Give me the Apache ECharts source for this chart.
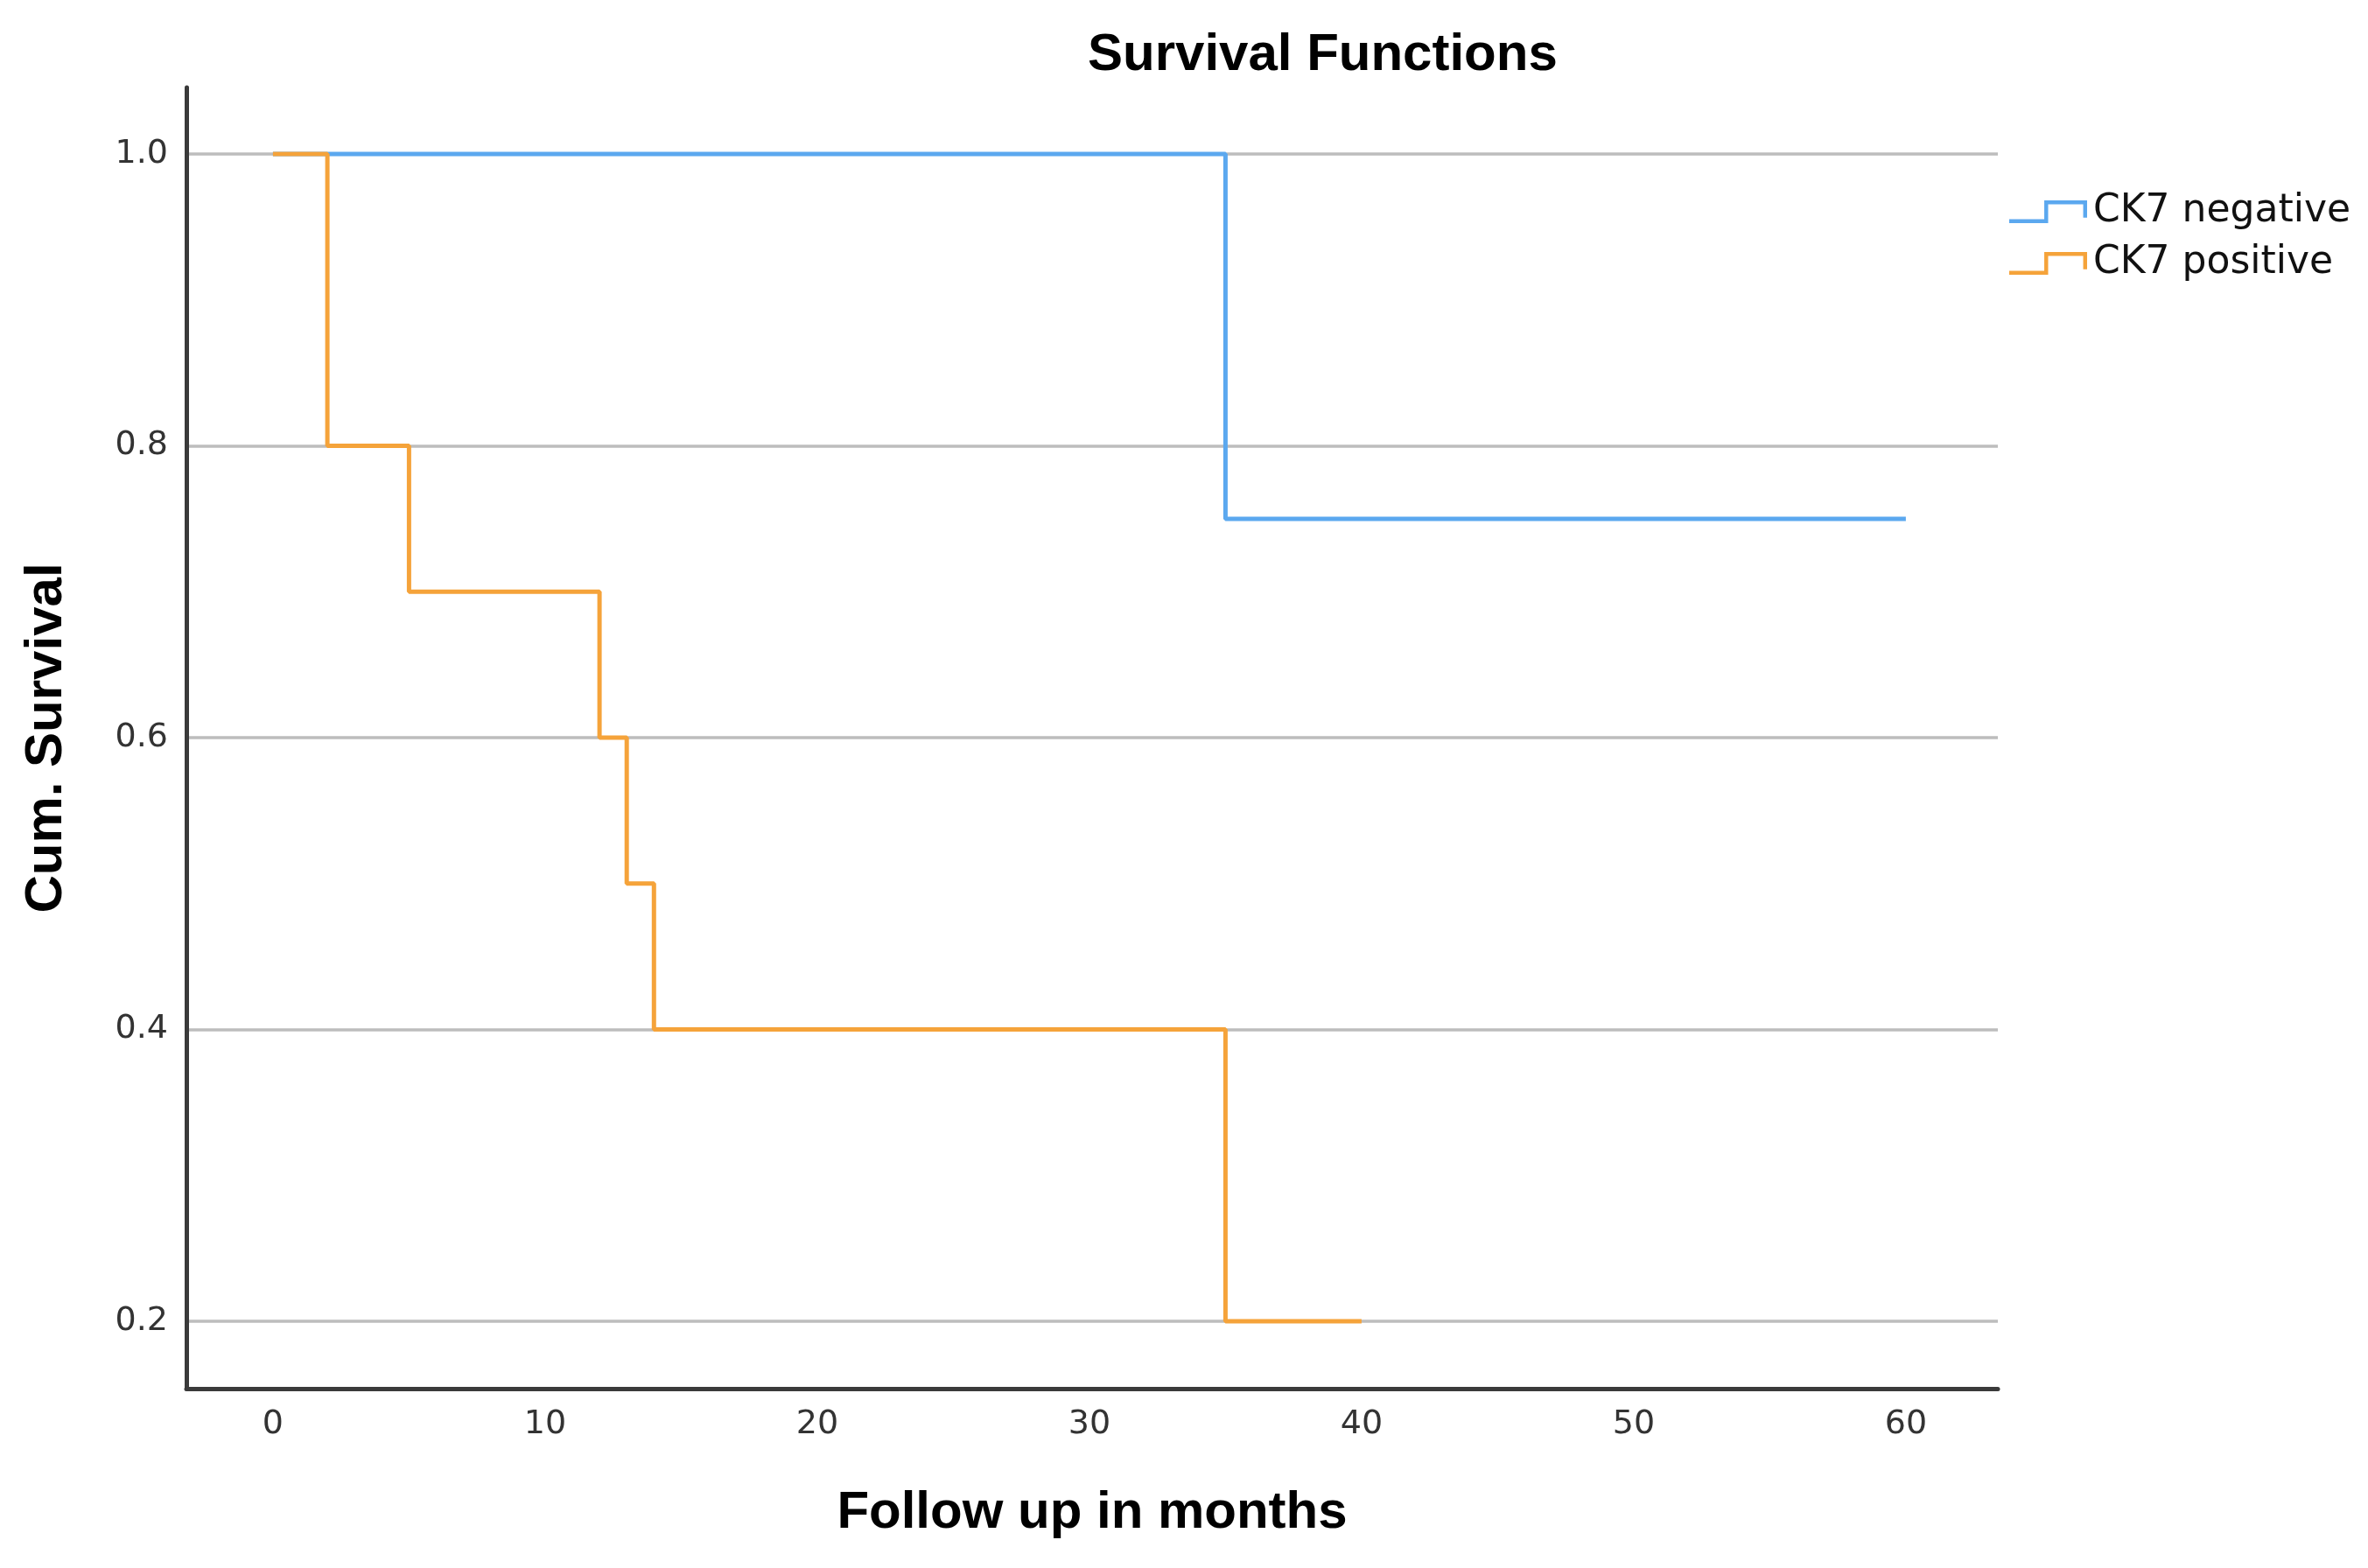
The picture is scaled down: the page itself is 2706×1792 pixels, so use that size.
<!DOCTYPE html>
<html>
<head>
<meta charset="utf-8">
<style>
  html, body { margin: 0; padding: 0; background: #ffffff; }
  #chart { width: 2706px; height: 1792px; }
</style>
<script src="https://cdn.jsdelivr.net/npm/echarts@6/dist/echarts.min.js"></script>
</head>
<body>
<div id="chart"></div>
<script>
// ---- data ----
const seriesNames = ['CK7 negative', 'CK7 positive'];
// CK7 negative: time points (months) and cumulative survival
const negTimes = [0, 35, 60];
const negSurvival = [1.0, 0.75, 0.75];
// CK7 positive
const posTimes = [0, 2, 5, 12, 13, 14, 35, 40];
const posSurvival = [1.0, 0.8, 0.7, 0.6, 0.5, 0.4, 0.2, 0.2];
// tick labels
const xTicks = [0, 10, 20, 30, 40, 50, 60];
const yTicks = [0.2, 0.4, 0.6, 0.8, 1.0];

const toPairs = (xs, ys) => xs.map((x, i) => [x, ys[i]]);

const stepIcon = 'path://M0,24 L45,24 L45,0 L100,0 L100,22 L95,22 L95,5 L50,5 L50,29 L0,29 Z';

const chart = echarts.init(document.getElementById('chart'), null, { renderer: 'canvas' });

const option = {
  backgroundColor: '#ffffff',
  animation: false,
  title: {
    text: 'Survival Functions',
    left: 1238,
    top: 28,
    textStyle: {
      fontFamily: 'Liberation Sans',
      fontWeight: 'bold',
      fontSize: 60,
      color: '#000000'
    }
  },
  legend: {
    orient: 'vertical',
    left: 2291,
    top: 215,
    itemWidth: 89,
    itemHeight: 28,
    itemGap: 15,
    icon: stepIcon,
    data: seriesNames,
    textStyle: {
      fontFamily: 'DejaVu Sans',
      fontSize: 44,
      color: '#111111',
      padding: [0, 0, 0, 2]
    }
  },
  grid: {
    left: 213,
    right: 423,
    top: 100,
    bottom: 205,
    containLabel: false
  },
  xAxis: {
    type: 'value',
    min: -3.18,
    max: 63.38,
    name: 'Follow up in months',
    nameLocation: 'middle',
    nameGap: 112,
    nameTextStyle: {
      fontFamily: 'Liberation Sans',
      fontWeight: 'bold',
      fontSize: 60,
      color: '#000000'
    },
    axisLine: { show: true, onZero: false, lineStyle: { color: '#3a3a3a', width: 5 } },
    axisTick: { show: false, customValues: xTicks },
    axisLabel: {
      customValues: xTicks,
      margin: 22,
      fontFamily: 'DejaVu Sans',
      fontSize: 38,
      color: '#333333'
    },
    splitLine: { show: false }
  },
  yAxis: {
    type: 'value',
    min: 0.1538,
    max: 1.0456,
    name: 'Cum. Survival',
    nameLocation: 'middle',
    nameGap: 130,
    nameRotate: 90,
    nameTextStyle: {
      fontFamily: 'Liberation Sans',
      fontWeight: 'bold',
      fontSize: 60,
      color: '#000000'
    },
    axisLine: { show: true, onZero: false, lineStyle: { color: '#3a3a3a', width: 5 } },
    axisTick: { show: false, customValues: yTicks },
    axisLabel: {
      customValues: yTicks,
      margin: 21,
      fontFamily: 'DejaVu Sans',
      fontSize: 38,
      color: '#333333',
      formatter: v => v.toFixed(1)
    },
    splitLine: { show: true, lineStyle: { color: '#bdbdbd', width: 3.5 } }
  },
  series: [
    {
      name: seriesNames[0],
      type: 'line',
      step: 'end',
      showSymbol: false,
      symbol: 'none',
      color: '#5ba8ef',
      lineStyle: { color: '#5ba8ef', width: 5 },
      data: toPairs(negTimes, negSurvival),
      z: 3
    },
    {
      name: seriesNames[1],
      type: 'line',
      step: 'end',
      showSymbol: false,
      symbol: 'none',
      color: '#f5a33a',
      lineStyle: { color: '#f5a33a', width: 5 },
      data: toPairs(posTimes, posSurvival),
      z: 4
    }
  ]
};

chart.setOption(option);
</script>
</body>
</html>
